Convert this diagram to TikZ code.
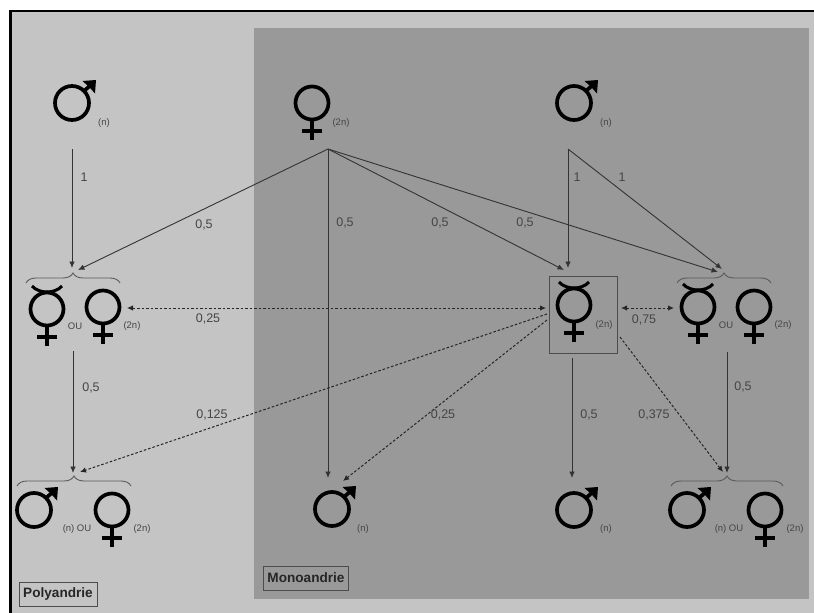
\documentclass[tikz,border=0pt]{standalone}
\usepackage{fontspec}
\setmainfont{Liberation Sans}
\usetikzlibrary{arrows.meta,decorations.pathreplacing}
\definecolor{lightbg}{gray}{0.77}
\definecolor{darkbg}{gray}{0.60}
\definecolor{inkc}{gray}{0.2}
\definecolor{txtc}{gray}{0.27}
\tikzset{
  sym/.style={line width=3.7pt,black},
  link/.style={draw=inkc,line width=0.9pt,-{Latex[length=6.5pt,width=5.5pt]}},
  dlink/.style={draw=black!85,line width=1pt,dash pattern=on 2.6pt off 1.9pt,-{Latex[length=6pt,width=5.5pt]}},
  ddlink/.style={dlink,{Latex[length=6pt,width=5.5pt]}-{Latex[length=6pt,width=5.5pt]}},
  prob/.style={text=txtc,font=\fontsize{12.5}{13}\selectfont,inner sep=0pt},
  ploid/.style={text=txtc,font=\fontsize{9.5}{10}\selectfont,inner sep=0pt},
  tagbox/.style={draw=black!70,line width=0.8pt,font=\fontsize{13.6}{14}\bfseries\selectfont,text=black!85,inner sep=0pt,minimum height=24pt},
  bracec/.style={draw=black!65,line width=0.9pt,decorate,decoration={brace,amplitude=10pt}},
}
\newcommand{\femsym}[2]{%
  \draw[sym] (#1,#2) circle (16.5);
  \draw[sym] (#1,#2+16.5) -- (#1,#2+37);
  \draw[sym] (#1-10,#2+28) -- (#1+10,#2+28);}
\newcommand{\hermsym}[2]{%
  \femsym{#1}{#2}
  \draw[sym,line width=3pt] (#1-15,#2-23) .. controls (#1-8,#2-15) and (#1+8,#2-15) .. (#1+15,#2-23);}
\newcommand{\malesym}[2]{%
  \draw[sym] (#1,#2) circle (17);
  \draw[sym] (#1+12,#2-12) -- (#1+20,#2-19);
  \fill[black] (#1+24,#2-23) -- (#1+10.5,#2-22) -- (#1+15.5,#2-17.5) -- (#1+18.5,#2-14.5) -- (#1+23,#2-9.5) -- cycle;}
\begin{document}
\begin{tikzpicture}[x=1pt,y=-1pt]
\useasboundingbox (0,0) rectangle (814,613);
\fill[white] (0,0) rectangle (814,613);
\fill[lightbg] (10,11) rectangle (814,613);
\draw[black,line width=2.4pt] (10.5,613) -- (10.5,11) -- (814,11);
\fill[darkbg] (254,28) rectangle (809,599);

% symbols
\malesym{72}{103}
\femsym{312}{103}
\malesym{574}{103}
\hermsym{47}{309}
\femsym{103}{307}
\hermsym{574}{305}
\hermsym{698}{307}
\femsym{754}{307}
\malesym{34}{510}
\femsym{112}{510}
\malesym{332}{509}
\malesym{574}{510}
\malesym{687}{510}
\femsym{765}{510}

% ploidy labels
\node[ploid] (p1) at (104,123) {(n)};
\node[ploid] (p2) at (341,123) {(2n)};
\node[ploid] (p3) at (606,123) {(n)};
\node[ploid] (p4) at (75,326) {OU};
\node[ploid] (p5) at (132,326) {(2n)};
\node[ploid] (p6) at (604,325) {(2n)};
\node[ploid] (p7) at (726,325) {OU};
\node[ploid] (p8) at (783,325) {(2n)};
\node[ploid] (p9) at (77,529) {(n) OU};
\node[ploid] (p10) at (142,529) {(2n)};
\node[ploid] (p11) at (363,529) {(n)};
\node[ploid] (p12) at (606,529) {(n)};
\node[ploid] (p13) at (729,529) {(n) OU};
\node[ploid] (p14) at (795,529) {(2n)};

% hermaphrodite box
\node[draw=black!70,line width=0.9pt,minimum width=68pt,minimum height=77pt,inner sep=0pt] (hbox) at (583,314.5) {};

% anchors
\coordinate (mA) at (72,149);
\coordinate (fT) at (328,149);
\coordinate (mB) at (568,149);
\coordinate (gL) at (72,268);
\coordinate (gLb) at (78,270);
\coordinate (hT) at (568,268);
\coordinate (hTb) at (564,270);
\coordinate (gRa) at (722,269);
\coordinate (gRb) at (718,272);
\coordinate (gLo) at (73,351);
\coordinate (oL) at (73,473);
\coordinate (oLb) at (80,472);
\coordinate (mC) at (328,478);
\coordinate (mCb) at (343,481);
\coordinate (hO) at (572,358);
\coordinate (mD) at (572,478);
\coordinate (gRo) at (727,352);
\coordinate (oR) at (727,473);
\coordinate (oRb) at (723,472);
\coordinate (dL) at (127,308);
\coordinate (dR) at (546,308);
\coordinate (d1) at (547,314);
\coordinate (d2) at (547,320);
\coordinate (d3) at (620,337);
\coordinate (dA) at (621,308);
\coordinate (dB) at (674,308);

% braces
\draw[bracec] (26,283) -- (120,283);
\draw[bracec] (677,283) -- (771,283);
\draw[bracec] (17,486) -- (131,486);
\draw[bracec] (671,486) -- (783,486);

% connectors
\draw[link] (mA) -- (gL);
\draw[link] (fT) -- (gLb);
\draw[link] (fT) -- (mC);
\draw[link] (fT) -- (hTb);
\draw[link] (fT) -- (gRb);
\draw[link] (mB) -- (hT);
\draw[link] (mB) -- (gRa);
\draw[link] (gLo) -- (oL);
\draw[link] (hO) -- (mD);
\draw[link] (gRo) -- (oR);
\draw[ddlink] (dL) -- (dR);
\draw[ddlink] (dA) -- (dB);
\draw[dlink] (d1) -- (oLb);
\draw[dlink] (d2) -- (mCb);
\draw[dlink] (d3) -- (oRb);

% probabilities
\node[prob] (a1) at (84,177) {1};
\node[prob] (a2) at (204,225) {0,5};
\node[prob] (a3) at (345,223) {0,5};
\node[prob] (a4) at (440,223) {0,5};
\node[prob] (a5) at (525,223) {0,5};
\node[prob] (a6) at (577,177) {1};
\node[prob] (a7) at (622,177) {1};
\node[prob] (a8) at (208,319) {0,25};
\node[prob] (a9) at (644,320) {0,75};
\node[prob] (a10) at (91,388) {0,5};
\node[prob] (a11) at (212,415) {0,125};
\node[prob] (a12) at (443,415) {0,25};
\node[prob] (a13) at (589,415) {0,5};
\node[prob] (a14) at (654,415) {0,375};
\node[prob] (a15) at (743,387) {0,5};

% tags
\node[tagbox,minimum width=78pt] (poly) at (58,594) {Polyandrie};
\node[tagbox,minimum width=85pt] (mono) at (306,578) {Monoandrie};
\end{tikzpicture}
\end{document}
